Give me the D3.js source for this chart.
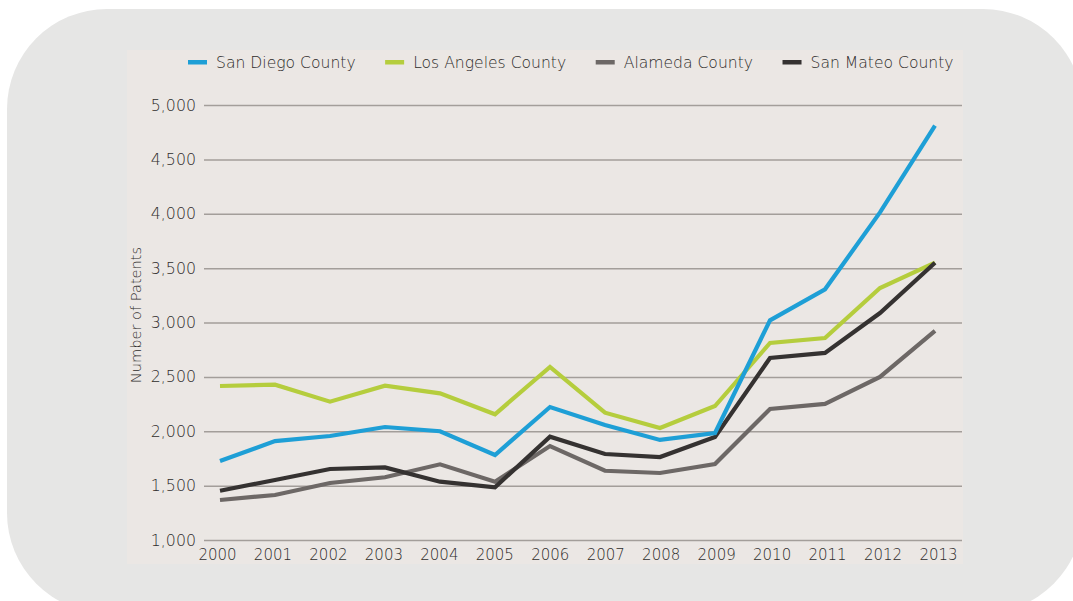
<!DOCTYPE html>
<html>
<head>
<meta charset="utf-8">
<script src="https://cdn.jsdelivr.net/npm/d3@7"></script>
<style>
  html, body { margin: 0; padding: 0; background: #ffffff; }
  svg { display: block; }
  text { font-family: "DejaVu Sans", "Liberation Sans", sans-serif; font-weight: 200; fill: #2e2c2b; }
</style>
</head>
<body>
<svg id="chart" width="1073" height="601"></svg>
<script>
// Patent counts by county, 2000–2013
const years = [2000, 2001, 2002, 2003, 2004, 2005, 2006, 2007, 2008, 2009, 2010, 2011, 2012, 2013];
const sanDiego   = [1726, 1910, 1956, 2039, 2000, 1782, 2223, 2057, 1920, 1984, 3020, 3305, 4012, 4810];
const losAngeles = [2416, 2428, 2272, 2419, 2349, 2156, 2591, 2171, 2030, 2232, 2812, 2857, 3317, 3550];
const alameda    = [1368, 1414, 1524, 1577, 1696, 1536, 1864, 1637, 1616, 1699, 2205, 2251, 2499, 2922];
const sanMateo   = [1453, 1552, 1653, 1668, 1536, 1485, 1950, 1791, 1763, 1947, 2674, 2720, 3087, 3550];
const seriesNames = ["San Diego County", "Los Angeles County", "Alameda County", "San Mateo County"];
const yTicks = [1000, 1500, 2000, 2500, 3000, 3500, 4000, 4500, 5000];

const colors = {
  "San Diego County": "#1e9fd6",
  "Los Angeles County": "#b5cd3d",
  "Alameda County": "#6d6866",
  "San Mateo County": "#353231"
};
const valuesByName = {
  "San Diego County": sanDiego,
  "Los Angeles County": losAngeles,
  "Alameda County": alameda,
  "San Mateo County": sanMateo
};
// back-to-front order of the lines
const drawOrder = ["Alameda County", "Los Angeles County", "San Mateo County", "San Diego County"];

const svg = d3.select("#chart");

// rounded backdrop card and the plot panel on top of it
svg.append("rect")
  .attr("x", 7).attr("y", 9).attr("width", 1076).attr("height", 604)
  .attr("rx", 100).attr("ry", 100)
  .attr("fill", "#e6e6e5");
svg.append("rect")
  .attr("x", 127).attr("y", 50).attr("width", 836).attr("height", 514)
  .attr("fill", "#ebe7e4");

const x = d3.scaleLinear().domain([2000, 2013]).range([220, 935]);
const xLabel = d3.scaleLinear().domain([2000, 2013]).range([217, 938]);
const y = d3.scaleLinear().domain([1000, 5000]).range([540, 105]);

const gridLeft = 204, gridRight = 962;

// y axis with full-width gridlines
const yAxis = svg.append("g")
  .attr("transform", `translate(${gridLeft},0)`)
  .call(d3.axisLeft(y)
    .tickValues(yTicks)
    .tickFormat(d3.format(","))
    .tickSize(-(gridRight - gridLeft))
    .tickPadding(8));
yAxis.select(".domain").remove();
yAxis.selectAll(".tick line").attr("stroke", "#a39e9a").attr("stroke-width", 1.5);
yAxis.selectAll(".tick text")
  .attr("font-size", 15.8)
  .attr("font-family", null)
  .attr("fill", null);

// x axis labels
const xAxis = svg.append("g")
  .attr("transform", `translate(0,540)`)
  .call(d3.axisBottom(xLabel)
    .tickValues(years)
    .tickFormat(d3.format("d"))
    .tickSize(0)
    .tickPadding(9));
xAxis.select(".domain").remove();
xAxis.selectAll(".tick text")
  .attr("font-size", 15)
  .attr("font-family", null)
  .attr("fill", null);

// y axis title
svg.append("text")
  .attr("transform", "translate(141,315) rotate(-90)")
  .attr("text-anchor", "middle")
  .attr("font-size", 14.6)
  .text("Number of Patents");

// lines
const line = d3.line()
  .x((d, i) => x(years[i]))
  .y(d => y(d));

svg.append("g")
  .selectAll("path")
  .data(drawOrder)
  .join("path")
  .attr("d", name => line(valuesByName[name]))
  .attr("fill", "none")
  .attr("stroke", name => colors[name])
  .attr("stroke-width", 4.2)
  .attr("stroke-linejoin", "miter");

// legend: swatch + label, laid out left to right
const legend = svg.append("g").attr("transform", "translate(188,62)");
let cursor = 0;
seriesNames.forEach(name => {
  const item = legend.append("g").attr("transform", `translate(${cursor},0)`);
  item.append("rect")
    .attr("x", 0).attr("y", -2).attr("width", 19).attr("height", 4.5)
    .attr("fill", colors[name]);
  const label = item.append("text")
    .attr("x", 28).attr("y", 0).attr("dy", "0.36em")
    .attr("font-size", 15.6)
    .text(name);
  cursor += 28 + label.node().getComputedTextLength() + 29.5;
});
</script>
</body>
</html>
